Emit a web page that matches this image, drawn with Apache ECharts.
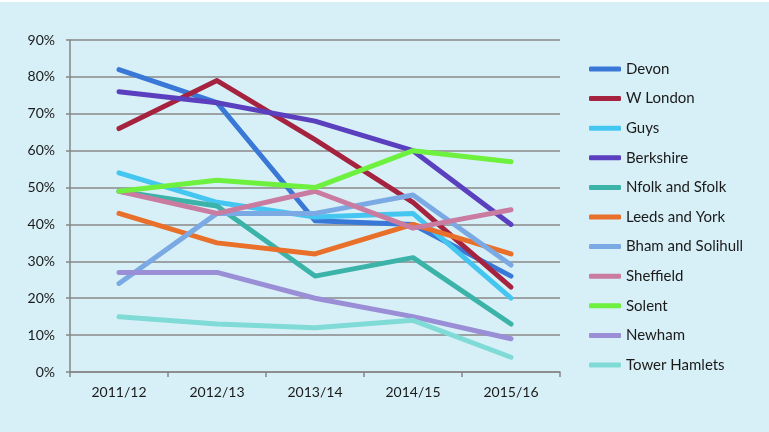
<!DOCTYPE html>
<html>
<head>
<meta charset="utf-8">
<script src="https://cdn.jsdelivr.net/npm/echarts@6/dist/echarts.min.js"></script>
<style>
html,body{margin:0;padding:0;background:#ffffff;}
#c{width:769px;height:432px;}
</style>
</head>
<body>
<div id="c"></div>
<script>
const categories = ['2011/12','2012/13','2013/14','2014/15','2015/16'];
const seriesNames = ['Devon','W London','Guys','Berkshire','Nfolk and Sfolk','Leeds and York','Bham and Solihull','Sheffield','Solent','Newham','Tower Hamlets'];
const devon = [82,73,41,40,26];
const wLondon = [66,79,63,46,23];
const guys = [54,46,42,43,20];
const berkshire = [76,73,68,60,40];
const nfolkSfolk = [49,45,26,31,13];
const leedsYork = [43,35,32,40,32];
const bhamSolihull = [24,43,43,48,29];
const sheffield = [49,43,49,39,44];
const solent = [49,52,50,60,57];
const newham = [27,27,20,15,9];
const towerHamlets = [15,13,12,14,4];
const yTicks = [0,10,20,30,40,50,60,70,80,90];

const values = [devon,wLondon,guys,berkshire,nfolkSfolk,leedsYork,bhamSolihull,sheffield,solent,newham,towerHamlets];
const colors = ['#3a78d8','#a5233f','#45c6f0','#5a3fbf','#3bb3a8','#e8702a','#7ba9e3','#c97ba0','#6ef03e','#9a8fd6','#80dbd6'];

const chart = echarts.init(document.getElementById('c'));
chart.setOption({
  backgroundColor: '#d7f0f7',
  animation: false,
  graphic: [{type:'rect', shape:{x:0,y:0,width:769,height:2}, style:{fill:'#ffffff'}, silent:true}],
  grid: {left:70, right:209, top:40, bottom:60, containLabel:false},
  legend: {
    orient:'vertical', left:584, top:56, itemWidth:32, itemHeight:5, itemGap:13.6,
    icon:'roundRect',
    textStyle:{fontFamily:'Lato', fontSize:15, color:'#1a1a1a', lineHeight:16},
    data: seriesNames
  },
  xAxis: {
    type:'category', data:categories, boundaryGap:true,
    axisLine:{lineStyle:{color:'#868686', width:1.5}},
    axisTick:{show:true, length:5, lineStyle:{color:'#868686', width:1.5}},
    axisLabel:{margin:13, fontFamily:'Lato', fontSize:14, color:'#1a1a1a'}
  },
  yAxis: {
    type:'value', min:0, max:90, interval:10,
    axisLine:{show:true, lineStyle:{color:'#868686', width:1.5}},
    axisTick:{show:true, length:4, lineStyle:{color:'#868686', width:1.5}},
    splitLine:{show:true, lineStyle:{color:'#8a8a8a', width:1.5}},
    axisLabel:{margin:15, fontFamily:'Lato', fontSize:14, color:'#1a1a1a', formatter: v => (yTicks.includes(v) ? v + '%' : '')}
  },
  series: seriesNames.map((n,i)=>({
    name:n, type:'line', data:values[i], symbol:'none',
    lineStyle:{color:colors[i], width:5, cap:'round', join:'round'},
    itemStyle:{color:colors[i]}
  }))
});
</script>
</body>
</html>
